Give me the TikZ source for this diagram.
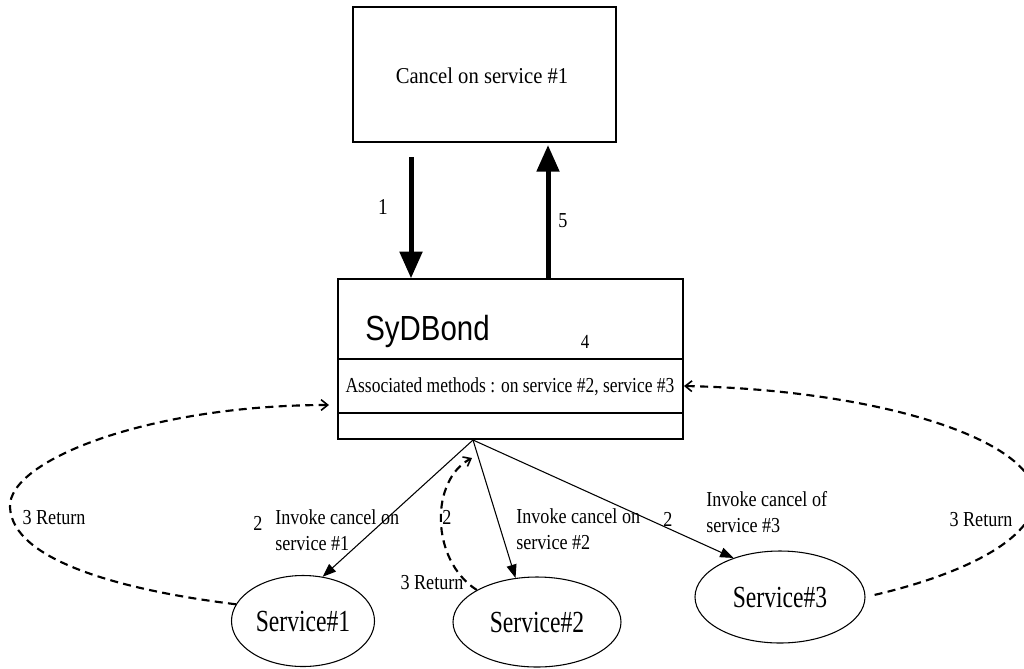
\documentclass[tikz,border=0pt]{standalone}
\usepackage{fontspec}
\setmainfont{Liberation Serif}
\newfontfamily\arialf{Liberation Sans}
\usetikzlibrary{arrows.meta,shapes.geometric}
\newcommand\cnd[2][0.85]{\scalebox{#1}[1]{#2}}
\tikzset{
  txt/.style={font=\fontsize{16}{20}\selectfont, inner sep=0pt},
  thickarr/.style={line width=3.75pt, -{Triangle[length=20pt,width=16.5pt]}},
  thinarr/.style={line width=0.8pt, -{Triangle[length=10pt,width=7.5pt]}},
  retarr/.style={line width=1.6pt, dash pattern=on 6pt off 4pt, -{Straight Barb[length=5pt,width=8pt,line width=1.2pt]}},
  boxn/.style={draw, line width=1pt, inner sep=0pt},
  svc/.style={draw, ellipse, line width=0.8pt, inner sep=0pt, font=\fontsize{23}{23}\selectfont},
}
\begin{document}
\begin{tikzpicture}[x=0.75pt,y=-0.75pt]
\useasboundingbox (0,0) rectangle (1024,668);
\clip (0,0) rectangle (1024,668);
\fill[white] (0,0) rectangle (1024,668);

% top box
\node[boxn, minimum width=197.25pt, minimum height=101.25pt] (top) at (484.5,74.5) {};
\node[txt, font=\fontsize{17}{20}\selectfont] (toptxt) at (482,76) {\cnd[0.91]{Cancel on service \#1}};

% SyDBond box
\node[boxn, minimum width=258.75pt, minimum height=120pt] (sb) at (510.5,359) {};
\draw[line width=1pt] (338,359) -- (683,359);
\draw[line width=1pt] (338,413) -- (683,413);
\node[anchor=base west, inner sep=0pt, font=\arialf\fontsize{24}{24}\selectfont] (sbname) at (365,340) {\scalebox{0.92}[1.09]{SyDBond}};
\node[txt, font=\fontsize{15}{18}\selectfont] (four) at (585,342) {\cnd{4}};
\node[txt] (assoc) at (510,387) {\cnd[0.82]{Associated methods : on service \#2, service \#3}};

% services
\node[svc, minimum width=107.25pt, minimum height=68.25pt] (s1) at (303,621) {\cnd[0.77]{Service\#1}};
\node[svc, minimum width=126pt, minimum height=67.5pt] (s2) at (537,622) {\cnd[0.77]{Service\#2}};
\node[svc, minimum width=127.5pt, minimum height=69pt] (s3) at (780,597) {\cnd[0.77]{Service\#3}};

% thick arrows
\coordinate (a1) at (411,157);
\draw[thickarr] (a1) -- (a1 |- sb.north);
\coordinate (a5) at (548,145);
\draw[thickarr] (a5 |- sb.north) -- (a5);
\node[txt, font=\fontsize{17}{20}\selectfont] (l1) at (383,207) {\cnd{1}};
\node[txt] (l5) at (563,221) {\cnd{5}};

% invoke arrows
\coordinate (o) at (473,440);
\draw[thinarr] (o) -- (s1.66);
\draw[thinarr] (o) -- (s2.116);
\draw[thinarr] (o) -- (s3.140);

% return arrows
\coordinate (lmid) at (10,507);
\coordinate (lend) at (329,405);
\draw[retarr] (s1.166) .. controls (120,590) and (12,560) .. (lmid)
  .. controls (8,460) and (150,405) .. (lend);
\coordinate (rmid) at (1035,497);
\coordinate (rend) at (684,386);
\draw[retarr, shorten <=7pt] (s3.east) .. controls (960,575) and (1035,540) .. (rmid)
  .. controls (1035,440) and (880,390) .. (rend);
\coordinate (mend) at (472,458);
\draw[retarr] (s2.152) .. controls (430,560) and (430,480) .. (mend);

% labels
\node[txt] (r1) at (54,518) {\cnd{3 Return}};
\node[txt] (n2a) at (258,523) {\cnd{2}};
\node[txt, anchor=west] (i1) at (275,532) {\cnd{\begin{tabular}{@{}l@{}}Invoke cancel on\\service \#1\end{tabular}}};
\node[txt] (n2b) at (447,517) {\cnd{2}};
\node[txt] (r2) at (432,583) {\cnd{3 Return}};
\node[txt, anchor=west] (i2) at (516,531) {\cnd{\begin{tabular}{@{}l@{}}Invoke cancel on\\service \#2\end{tabular}}};
\node[txt] (n2c) at (668,519) {\cnd{2}};
\node[txt, anchor=west] (i3) at (706,514) {\cnd{\begin{tabular}{@{}l@{}}Invoke cancel of\\service \#3\end{tabular}}};
\node[txt] (r3) at (981,520) {\cnd{3 Return}};
\end{tikzpicture}
\end{document}
